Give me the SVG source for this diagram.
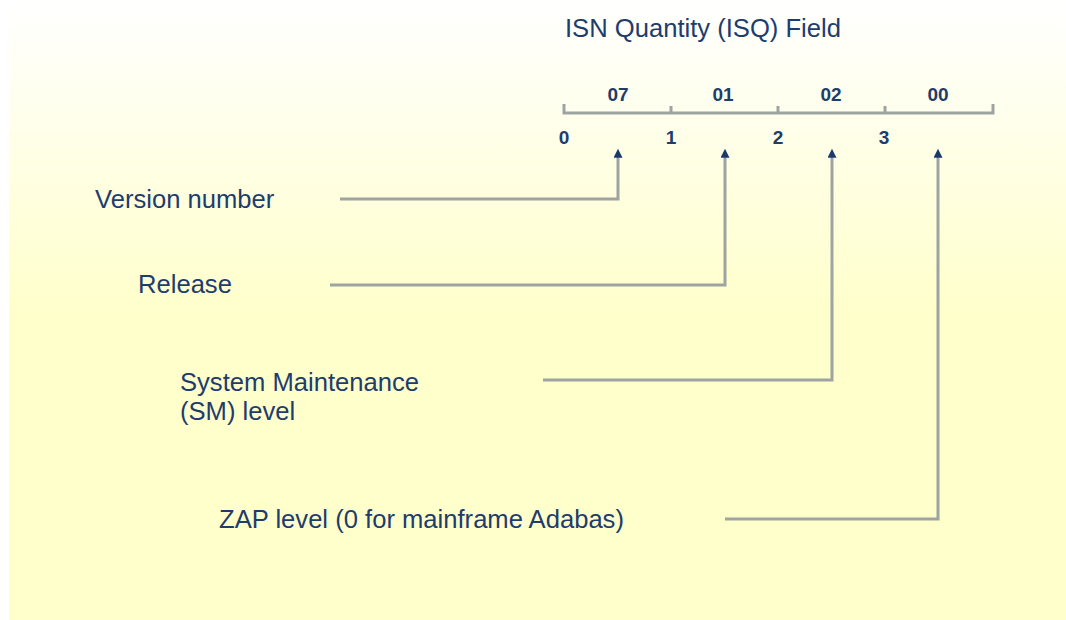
<svg xmlns="http://www.w3.org/2000/svg" width="1066" height="620" viewBox="0 0 1066 620">
<defs>
<linearGradient id="bg" x1="0" y1="0" x2="0" y2="1">
<stop offset="0" stop-color="#ffffff"/>
<stop offset="0.5" stop-color="#ffffcc"/>
<stop offset="1" stop-color="#ffffcc"/>
</linearGradient>
<marker id="ah" viewBox="0 0 10 10" refX="2" refY="5" markerWidth="10" markerHeight="9" markerUnits="userSpaceOnUse" orient="auto">
<path d="M0,0 L10,5 L0,10 Z" fill="#1b3a6b"/>
</marker>
<style>
.lbl{font-family:"Liberation Sans",Arial,sans-serif;font-size:25.6px;fill:#1e3c6c}
.num{font-family:"Liberation Sans",Arial,sans-serif;font-size:19px;font-weight:bold;fill:#1e3c6c;text-anchor:middle}
.ln{fill:none;stroke:#9ea4a2;stroke-width:3;stroke-linejoin:miter}
</style>
</defs>
<rect x="9" y="0" width="1057" height="620" fill="url(#bg)"/>
<g id="title"><text class="lbl" x="565" y="37">ISN Quantity (ISQ) Field</text></g>
<g id="ruler">
<path class="ln" d="M564,104 V113 H993 V104 M671,106 V113 M778,106 V113 M885,106 V113"/>
<text class="num" x="618" y="101">07</text>
<text class="num" x="723" y="101">01</text>
<text class="num" x="831" y="101">02</text>
<text class="num" x="938" y="101">00</text>
<text class="num" x="564" y="144">0</text>
<text class="num" x="671" y="144">1</text>
<text class="num" x="778" y="144">2</text>
<text class="num" x="884" y="144">3</text>
</g>
<g id="version"><text class="lbl" x="95" y="208">Version number</text></g>
<g id="release"><text class="lbl" x="138" y="293">Release</text></g>
<g id="sm"><text class="lbl" x="180" y="391">System Maintenance</text><text class="lbl" x="180" y="420">(SM) level</text></g>
<g id="zap"><text class="lbl" x="219" y="528">ZAP level (0 for mainframe Adabas)</text></g>
<g id="connectors">
<path class="ln" d="M340,199 H618 V156" marker-end="url(#ah)"/>
<path class="ln" d="M330,285 H725 V156" marker-end="url(#ah)"/>
<path class="ln" d="M543,380 H832 V156" marker-end="url(#ah)"/>
<path class="ln" d="M725,519 H938 V156" marker-end="url(#ah)"/>
</g>
</svg>
